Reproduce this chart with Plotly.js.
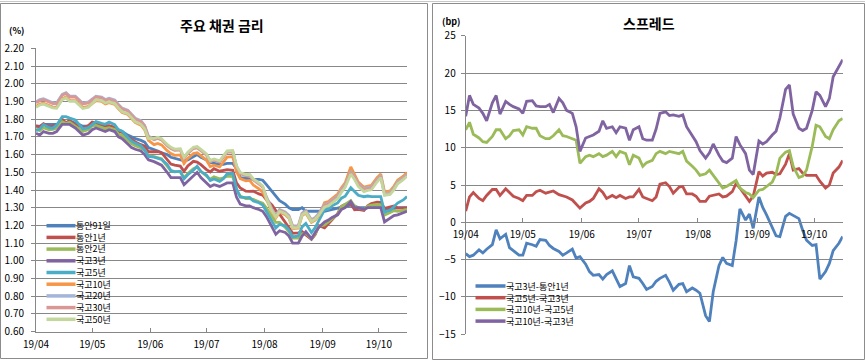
<!DOCTYPE html>
<html>
<head>
<meta charset="utf-8">
<script src="https://cdn.plot.ly/plotly-3.0.1.min.js"></script>
<style>
html,body{margin:0;padding:0;background:#ffffff;}
#chart{width:865px;height:361px;}
</style>
</head>
<body>
<div id="chart"></div>
<script>
// ---------------- DATA ----------------
const dates = [
 '2019-04-01','2019-04-03','2019-04-05','2019-04-08','2019-04-10','2019-04-12','2019-04-15','2019-04-17','2019-04-19','2019-04-22','2019-04-24','2019-04-26','2019-04-29',
 '2019-05-01','2019-05-03','2019-05-06','2019-05-08','2019-05-10','2019-05-13','2019-05-15','2019-05-17','2019-05-20','2019-05-22','2019-05-24','2019-05-27','2019-05-29','2019-05-31',
 '2019-06-03','2019-06-05','2019-06-07','2019-06-10','2019-06-12','2019-06-14','2019-06-17','2019-06-19','2019-06-21','2019-06-24','2019-06-26','2019-06-28',
 '2019-07-01','2019-07-03','2019-07-05','2019-07-08','2019-07-10','2019-07-12','2019-07-15','2019-07-17','2019-07-19','2019-07-22','2019-07-24','2019-07-26','2019-07-29','2019-07-31',
 '2019-08-02','2019-08-05','2019-08-07','2019-08-09','2019-08-12','2019-08-14','2019-08-16','2019-08-19','2019-08-21','2019-08-23','2019-08-26','2019-08-28','2019-08-30',
 '2019-09-02','2019-09-04','2019-09-06','2019-09-09','2019-09-11','2019-09-13','2019-09-16','2019-09-18','2019-09-20','2019-09-23','2019-09-25','2019-09-27','2019-09-30',
 '2019-10-02','2019-10-04','2019-10-07','2019-10-09','2019-10-11','2019-10-14','2019-10-16'
];

// 주요 채권 금리 (%)
const msb91d = [
 1.76,1.76,1.77,1.77,1.77,1.77,1.78,1.78,1.79,1.78,1.77,1.76,1.76,
 1.77,1.77,1.77,1.76,1.76,1.75,1.74,1.73,1.71,1.70,1.69,1.68,1.67,1.64,
 1.63,1.62,1.61,1.60,1.585,1.58,1.57,1.565,1.57,1.59,1.60,1.585,
 1.57,1.555,1.55,1.545,1.545,1.55,1.55,1.52,1.47,1.465,1.465,1.46,1.46,1.455,
 1.43,1.39,1.36,1.34,1.32,1.30,1.29,1.29,1.30,1.28,1.28,1.28,1.28,
 1.28,1.285,1.29,1.30,1.305,1.31,1.315,1.31,1.30,1.30,1.30,1.30,1.30,
 1.30,1.29,1.29,1.295,1.30,1.30,1.30
];
const msb1y = [
 1.762,1.756,1.774,1.757,1.761,1.766,1.800,1.780,1.792,1.766,1.764,1.748,1.764,
 1.784,1.778,1.770,1.762,1.763,1.754,1.731,1.725,1.699,1.684,1.671,1.656,1.648,1.616,
 1.616,1.616,1.611,1.570,1.546,1.540,1.535,1.505,1.536,1.562,1.558,1.543,
 1.515,1.502,1.520,1.506,1.509,1.515,1.511,1.440,1.411,1.393,1.392,1.393,1.378,1.371,
 1.345,1.315,1.283,1.263,1.218,1.187,1.155,1.158,1.165,1.147,1.122,1.149,1.198,
 1.186,1.210,1.235,1.266,1.308,1.319,1.322,1.288,1.291,1.285,1.311,1.324,1.331,
 1.330,1.296,1.306,1.310,1.298,1.298,1.299
];
const msb2y = [
 1.745,1.735,1.752,1.740,1.742,1.750,1.786,1.776,1.782,1.760,1.748,1.730,1.742,
 1.762,1.765,1.755,1.746,1.752,1.742,1.716,1.708,1.680,1.662,1.650,1.638,1.624,1.593,
 1.588,1.583,1.576,1.535,1.508,1.505,1.502,1.468,1.493,1.520,1.529,1.506,
 1.478,1.461,1.475,1.463,1.469,1.478,1.476,1.400,1.366,1.352,1.351,1.347,1.334,1.326,
 1.298,1.253,1.217,1.217,1.189,1.164,1.128,1.129,1.153,1.156,1.124,1.155,1.194,
 1.203,1.220,1.240,1.263,1.305,1.318,1.340,1.310,1.300,1.290,1.308,1.314,1.318,
 1.316,1.258,1.273,1.283,1.279,1.284,1.290
];
const ktb3y = [
 1.72,1.71,1.73,1.72,1.72,1.73,1.77,1.77,1.77,1.75,1.73,1.71,1.72,
 1.74,1.75,1.74,1.73,1.74,1.73,1.70,1.69,1.66,1.64,1.63,1.62,1.60,1.57,
 1.56,1.55,1.54,1.50,1.47,1.47,1.47,1.43,1.45,1.48,1.50,1.47,
 1.44,1.42,1.43,1.42,1.43,1.44,1.44,1.36,1.32,1.31,1.31,1.30,1.29,1.28,
 1.25,1.19,1.15,1.17,1.16,1.14,1.10,1.10,1.14,1.165,1.125,1.16,1.19,
 1.22,1.23,1.245,1.26,1.29,1.30,1.335,1.30,1.30,1.29,1.30,1.30,1.30,
 1.30,1.22,1.24,1.255,1.26,1.27,1.28
];
const ktb5y = [
 1.735,1.744,1.770,1.752,1.749,1.766,1.814,1.814,1.806,1.795,1.770,1.745,1.752,
 1.769,1.786,1.776,1.771,1.783,1.769,1.740,1.732,1.697,1.676,1.664,1.650,1.625,1.589,
 1.586,1.578,1.572,1.545,1.510,1.502,1.506,1.463,1.486,1.512,1.534,1.504,
 1.484,1.454,1.462,1.449,1.464,1.491,1.493,1.408,1.359,1.357,1.358,1.338,1.328,1.315,
 1.278,1.218,1.185,1.206,1.198,1.174,1.135,1.141,1.192,1.211,1.160,1.188,1.225,
 1.288,1.292,1.311,1.327,1.354,1.365,1.413,1.392,1.370,1.362,1.366,1.363,1.363,
 1.363,1.275,1.286,1.305,1.326,1.344,1.363
];
const ktb10y = [
 1.872,1.885,1.890,1.875,1.868,1.866,1.915,1.925,1.905,1.905,1.885,1.865,1.872,
 1.886,1.905,1.900,1.886,1.893,1.883,1.858,1.837,1.826,1.800,1.780,1.766,1.740,1.680,
 1.656,1.663,1.655,1.622,1.606,1.596,1.598,1.550,1.578,1.606,1.610,1.594,
 1.568,1.532,1.540,1.530,1.555,1.586,1.588,1.503,1.464,1.452,1.454,1.428,1.406,1.388,
 1.346,1.276,1.243,1.275,1.261,1.241,1.182,1.184,1.255,1.269,1.217,1.230,1.254,
 1.329,1.335,1.353,1.377,1.412,1.440,1.530,1.484,1.445,1.416,1.423,1.426,1.470,
 1.490,1.390,1.395,1.421,1.455,1.478,1.498
];
const ktb20y = [
 1.897,1.910,1.915,1.900,1.893,1.891,1.940,1.950,1.930,1.930,1.910,1.890,1.897,
 1.911,1.930,1.925,1.911,1.918,1.908,1.883,1.862,1.851,1.825,1.805,1.791,1.765,1.705,
 1.686,1.693,1.685,1.652,1.636,1.626,1.628,1.580,1.608,1.636,1.640,1.624,
 1.598,1.562,1.570,1.560,1.585,1.616,1.618,1.533,1.494,1.482,1.484,1.458,1.436,1.418,
 1.361,1.291,1.258,1.290,1.276,1.256,1.197,1.199,1.270,1.284,1.232,1.245,1.269,
 1.319,1.325,1.343,1.367,1.402,1.430,1.505,1.474,1.435,1.406,1.413,1.416,1.460,
 1.480,1.380,1.385,1.411,1.445,1.468,1.488
];
const ktb30y = [
 1.892,1.905,1.910,1.895,1.888,1.886,1.935,1.945,1.925,1.925,1.905,1.885,1.892,
 1.906,1.925,1.920,1.906,1.913,1.903,1.878,1.857,1.846,1.820,1.800,1.786,1.760,1.700,
 1.684,1.691,1.683,1.650,1.634,1.624,1.626,1.578,1.606,1.634,1.638,1.622,
 1.596,1.560,1.568,1.558,1.583,1.614,1.616,1.531,1.492,1.480,1.482,1.456,1.434,1.416,
 1.356,1.286,1.253,1.285,1.271,1.251,1.192,1.194,1.265,1.279,1.227,1.240,1.264,
 1.314,1.320,1.338,1.362,1.397,1.425,1.500,1.469,1.430,1.401,1.408,1.411,1.455,
 1.475,1.375,1.380,1.406,1.440,1.463,1.483
];
const ktb50y = [
 1.867,1.880,1.885,1.870,1.863,1.861,1.910,1.920,1.900,1.900,1.880,1.860,1.867,
 1.891,1.910,1.905,1.891,1.898,1.888,1.863,1.842,1.831,1.805,1.785,1.771,1.745,1.690,
 1.691,1.698,1.690,1.657,1.641,1.631,1.633,1.585,1.613,1.641,1.645,1.629,
 1.603,1.567,1.575,1.565,1.590,1.621,1.623,1.538,1.499,1.487,1.489,1.463,1.441,1.423,
 1.351,1.281,1.248,1.280,1.266,1.246,1.187,1.189,1.260,1.274,1.222,1.235,1.259,
 1.304,1.310,1.328,1.352,1.387,1.415,1.490,1.459,1.420,1.391,1.398,1.401,1.445,
 1.470,1.370,1.375,1.401,1.435,1.458,1.478
];

// 스프레드 (bp)
const sp3y1y = [
 -4.2,-4.6,-4.4,-3.7,-4.1,-3.6,-3.0,-1.0,-2.2,-1.6,-3.4,-3.8,-4.4,
 -4.4,-2.8,-3.0,-3.2,-2.3,-2.4,-3.1,-3.5,-3.9,-4.4,-4.1,-3.6,-4.8,-4.6,
 -5.6,-6.6,-7.1,-7.0,-7.6,-7.0,-6.5,-7.5,-8.6,-8.2,-5.8,-7.3,
 -7.5,-8.2,-9.0,-8.6,-7.9,-7.5,-7.1,-8.0,-9.1,-8.3,-8.2,-9.3,-8.8,-9.1,
 -9.5,-12.5,-13.3,-9.3,-5.8,-4.7,-5.5,-5.8,-2.5,1.8,0.3,1.1,-0.8,
 3.4,2.0,1.0,-0.6,-1.8,-1.9,0.8,1.2,0.9,0.5,-1.1,-2.4,-3.1,
 -3.0,-7.6,-6.6,-5.5,-3.8,-2.8,-1.9
];
const sp5y3y = [
 1.5,3.4,4.0,3.2,2.9,3.6,4.4,4.4,3.6,4.5,4.0,3.5,3.2,
 2.9,3.6,3.6,4.1,4.3,3.9,4.0,4.2,3.7,3.6,3.4,3.0,2.5,1.9,
 2.6,2.8,3.2,4.5,4.0,3.2,3.6,3.3,3.6,3.2,3.4,3.4,
 4.4,3.4,3.2,2.9,3.4,5.1,5.3,4.8,3.9,4.7,4.8,3.8,3.8,3.5,
 2.8,2.8,3.5,3.6,3.8,3.4,3.5,4.1,5.2,4.6,3.5,2.8,3.5,
 6.8,6.2,6.6,6.7,6.4,6.5,7.8,9.2,7.0,7.2,6.6,6.3,6.3,
 6.3,5.5,4.6,5.0,6.6,7.4,8.3
];
const sp10y5y = [
 12.4,13.4,11.8,11.3,10.8,10.7,11.5,12.4,12.4,11.2,11.6,12.3,12.4,
 11.7,12.8,12.6,12.6,11.6,11.2,11.2,11.6,12.4,11.6,11.5,11.2,11.0,7.9,
 8.8,9.0,8.8,9.2,8.8,9.0,9.5,8.8,9.5,9.2,7.7,9.0,
 8.6,7.5,8.0,8.3,9.2,9.5,9.2,9.5,9.4,9.2,9.5,8.2,7.5,7.0,
 6.3,6.5,7.0,6.3,5.3,4.6,4.8,5.3,5.6,4.6,4.0,3.8,3.3,
 4.3,4.4,4.8,5.4,6.5,8.6,9.4,9.6,7.5,6.0,6.2,7.0,10.2,
 13.0,12.8,11.5,11.2,12.4,13.6,13.9
];
const sp10y3y = [
 14.2,17.0,15.8,15.3,14.6,13.6,16.0,17.0,14.5,16.2,15.8,15.5,15.2,
 14.6,16.2,16.3,15.6,15.5,15.5,15.8,14.7,16.6,16.0,15.0,14.6,12.8,9.5,
 11.3,11.5,11.7,12.2,13.6,12.6,12.8,12.0,12.8,12.6,11.0,12.4,
 12.8,11.2,11.0,11.0,12.5,14.6,14.8,14.3,14.4,14.2,14.4,12.8,11.6,10.8,
 9.6,8.6,9.3,10.5,9.0,8.2,8.0,8.6,11.5,10.4,9.2,7.0,6.4,
 10.9,10.5,10.8,11.7,12.2,14.0,17.8,18.4,14.5,12.6,12.3,12.6,15.0,
 17.5,17.0,15.5,16.6,19.5,20.8,21.8
];

const yieldNames = ['통안91일','통안1년','통안2년','국고3년','국고5년','국고10년','국고20년','국고30년','국고50년'];
const spreadNames = ['국고3년-통안1년','국고5년-국고3년','국고10년-국고5년','국고10년-국고3년'];
const monthTicks = ['2019-04-01','2019-05-01','2019-06-01','2019-07-01','2019-08-01','2019-09-01','2019-10-01'];
const monthLabels = ['19/04','19/05','19/06','19/07','19/08','19/09','19/10'];
const leftTicks = [0.6,0.7,0.8,0.9,1.0,1.1,1.2,1.3,1.4,1.5,1.6,1.7,1.8,1.9,2.0,2.1,2.2];
const rightTicks = [-15,-10,-5,0,5,10,15,20,25];

// ---------------- STYLE ----------------
const yieldValues = [msb91d, msb1y, msb2y, ktb3y, ktb5y, ktb10y, ktb20y, ktb30y, ktb50y];
const spreadValues = [sp3y1y, sp5y3y, sp10y5y, sp10y3y];
const yieldColors = ['#4F81BD','#C0504D','#9BBB59','#8064A2','#4BACC6','#F79646','#A3B5D8','#D99896','#C3D69B'];
const spreadColors = ['#4F81BD','#C0504D','#9BBB59','#8064A2'];

const W = 865, H = 361;
const px = x => x / W;
const py = y => 1 - y / H;
const FONT = '"Noto Sans CJK KR", "Noto Sans", sans-serif';
const GRID = '#878787';

const traces = [];
yieldValues.forEach((vals, i) => {
  traces.push({x: dates, y: vals, type: 'scatter', mode: 'lines', name: yieldNames[i],
    xaxis: 'x', yaxis: 'y', line: {color: yieldColors[i], width: 2.8}, showlegend: false, hoverinfo: 'skip'});
});
spreadValues.forEach((vals, i) => {
  traces.push({x: dates, y: vals, type: 'scatter', mode: 'lines', name: spreadNames[i],
    xaxis: 'x2', yaxis: 'y2', line: {color: spreadColors[i], width: 2.8}, showlegend: false, hoverinfo: 'skip'});
});

const shapes = [];
const annotations = [];

// chart frames
shapes.push({type:'line', xref:'paper', yref:'paper', x0:0, x1:1, y0:py(1.5), y1:py(1.5), line:{color:'#c8c8c8', width:1}});
shapes.push({type:'rect', xref:'paper', yref:'paper', x0:px(0.5), x1:px(427.5), y0:py(358.5), y1:py(3.5), line:{color:'#8c8c8c', width:1}});
shapes.push({type:'rect', xref:'paper', yref:'paper', x0:px(432.5), x1:px(864.5), y0:py(359.5), y1:py(3.5), line:{color:'#8c8c8c', width:1}});

// compact custom legends: one multi-line text block each, with line swatches
const LEG_SIZE = 9;
const LEG_LH = LEG_SIZE * 1.3;
function addLegend(names, colors, xLine0, xLine1, firstY) {
  const n = names.length;
  const centerY = firstY + (n - 1) / 2 * LEG_LH;
  names.forEach((nm, i) => {
    const yy = firstY + i * LEG_LH;
    shapes.push({type:'line', xref:'paper', yref:'paper', x0:px(xLine0), x1:px(xLine1), y0:py(yy), y1:py(yy),
      line:{color:colors[i], width:3.5}});
  });
  annotations.push({xref:'paper', yref:'paper', x:px(xLine1 - 0.5), y:py(centerY), xanchor:'left', yanchor:'middle',
    align:'left', showarrow:false, borderpad:0, text:names.join('<br>'),
    font:{family:FONT, size:LEG_SIZE, color:'#000'}});
}
addLegend(yieldNames, yieldColors, 46.5, 75.5, 225.7);
addLegend(spreadNames, spreadColors, 475.5, 505.5, 286);

// titles and unit labels
annotations.push({xref:'paper', yref:'paper', x:px(222), y:py(25), xanchor:'center', yanchor:'middle', showarrow:false,
  text:'<b>주요 채권 금리</b>', font:{family:FONT, size:14, color:'#000'}});
annotations.push({xref:'paper', yref:'paper', x:px(649), y:py(23), xanchor:'center', yanchor:'middle', showarrow:false,
  text:'<b>스프레드</b>', font:{family:FONT, size:14, color:'#000'}});
annotations.push({xref:'paper', yref:'paper', x:px(16), y:py(31), xanchor:'center', yanchor:'middle', showarrow:false,
  borderpad:0, text:'<b>(%)</b>', font:{family:FONT, size:9, color:'#000'}});
annotations.push({xref:'paper', yref:'paper', x:px(451), y:py(21), xanchor:'center', yanchor:'middle', showarrow:false,
  borderpad:0, text:'<b>(bp)</b>', font:{family:FONT, size:9, color:'#000'}});

const tickFont = {family: FONT, size: 10, color: '#000'};

const layout = {
  width: W, height: H,
  margin: {l:0, r:0, t:0, b:0, pad:0},
  paper_bgcolor: '#ffffff', plot_bgcolor: 'rgba(0,0,0,0)',
  showlegend: false,
  xaxis: {
    domain: [px(36), px(407)], type: 'date', range: ['2019-04-01','2019-10-16'],
    tickvals: monthTicks, ticktext: monthLabels, ticks: 'inside', ticklen: 4, tickcolor: GRID,
    showline: true, linecolor: GRID, linewidth: 1, showgrid: false, zeroline: false,
    tickfont: tickFont, anchor: 'y', ticklabelstandoff: 3, fixedrange: true
  },
  yaxis: {
    domain: [py(331.7), py(48.3)], range: [0.6, 2.2],
    tickvals: leftTicks, tickformat: '.2f', ticks: 'outside', ticklen: 4, tickcolor: GRID,
    showline: true, linecolor: GRID, linewidth: 1, showgrid: true, gridcolor: GRID, gridwidth: 1,
    zeroline: false, tickfont: tickFont, anchor: 'x', ticklabelstandoff: 5, fixedrange: true
  },
  xaxis2: {
    domain: [px(465.7), px(842.7)], type: 'date', range: ['2019-04-01','2019-10-16'],
    tickvals: monthTicks, ticktext: monthLabels, ticks: 'inside', ticklen: 4, tickcolor: GRID,
    showline: true, linecolor: GRID, linewidth: 1, showgrid: false, zeroline: false,
    tickfont: tickFont, anchor: 'free', position: py(222.3), ticklabelstandoff: 3, fixedrange: true
  },
  yaxis2: {
    domain: [py(334.3), py(35.7)], range: [-15, 25],
    tickvals: rightTicks, ticks: 'outside', ticklen: 4, tickcolor: GRID,
    showline: true, linecolor: GRID, linewidth: 1, showgrid: true, gridcolor: GRID, gridwidth: 1,
    zeroline: false, tickfont: tickFont, anchor: 'x2', ticklabelstandoff: 3, fixedrange: true
  },
  shapes: shapes,
  annotations: annotations
};

Plotly.newPlot('chart', traces, layout, {displayModeBar: false, staticPlot: true});
</script>
</body>
</html>
